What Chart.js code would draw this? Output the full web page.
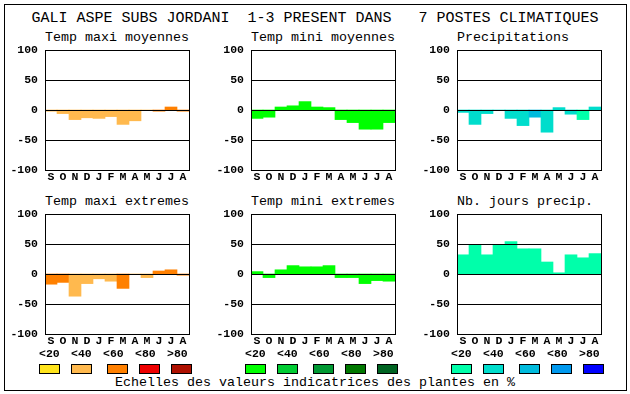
<!DOCTYPE html>
<html><head><meta charset="utf-8">
<script src="https://cdn.jsdelivr.net/npm/chart.js@4"></script>
<style>
html,body{margin:0;padding:0;background:#fff;}
#wrap{position:relative;width:630px;height:394px;overflow:hidden;background:#fff;}
.frame{position:absolute;left:4px;top:4px;width:623px;height:387px;border:1px solid #000;box-sizing:border-box;}
.t{position:absolute;font-family:'Liberation Mono',monospace;color:#000;white-space:pre;}
.main{font-size:15px;line-height:20px;left:0;width:630px;text-align:center;top:9px;}
.sub{font-size:13.33px;line-height:16px;}
.lab{font-size:11.5px;font-weight:bold;line-height:14px;}
.foot{font-size:13.33px;line-height:16px;left:0;width:630px;text-align:center;top:375px;}
.box{position:absolute;width:21px;height:10px;border:1px solid #000;box-sizing:border-box;}
canvas{position:absolute;}
</style></head>
<body>
<div id="wrap">
  <div class="frame"></div>
  <div class="t main">GALI ASPE SUBS JORDANI  1-3 PRESENT DANS   7 POSTES CLIMATIQUES</div>
  <div class="t foot">Echelles des valeurs indicatrices des plantes en %</div>
</div>
<script>
// ---------- data ----------
const months = ['S','O','N','D','J','F','M','A','M','J','J','A'];
const yTicks = [-100, -50, 0, 50, 100];
const gridValues = [-50, 0, 50];

const tmaxMoy    = [-2, -6, -16, -13, -14, -11, -24, -18, 0, -2, 5, -2];
const tmaxMoyCls = [1, 1, 1, 1, 1, 1, 1, 1, 1, 2, 2, 2];
const tminMoy    = [-14, -12, 5, 7, 14, 5, 4, -16, -21, -32, -32, -21];
const tminMoyCls = [0, 0, 0, 0, 0, 0, 0, 0, 0, 0, 0, 0];
const precip     = [-4, -24, -6, 0, -14, -26, -12, -37, 4, -7, -16, 5];
const precipCls  = [1, 1, 1, 1, 1, 1, 2, 1, 1, 1, 0, 1];
const tmaxExt    = [-17, -14, -37, -16, -8, -12, -24, 0, -6, 5, 7, -2];
const tmaxExtCls = [2, 2, 1, 1, 1, 1, 2, 1, 1, 2, 2, 2];
const tminExt    = [4, -6, 7, 14, 12, 12, 14, -6, -6, -16, -11, -12];
const tminExtCls = [0, 0, 0, 0, 0, 0, 0, 0, 0, 0, 0, 0];
const nbJours    = [32, 49, 32, 49, 54, 42, 42, 20, 2, 32, 27, 34];
const nbJoursCls = [0, 0, 0, 0, 0, 0, 0, 0, 0, 0, 0, 0];

const legendLabels = ['<20', '<40', '<60', '<80', '>80'];
const warmColors  = ['#FFE41C', '#FFB94E', '#FF8000', '#EE0000', '#AE1000'];
const greenColors = ['#00FF00', '#00CC33', '#009933', '#007800', '#006422'];
const coolColors  = ['#00FFAA', '#00DDCC', '#00BBDD', '#0099EE', '#0000FF'];

// ---------- layout ----------
const panels = [
  {title:'Temp maxi moyennes', values:tmaxMoy, cls:tmaxMoyCls, pal:warmColors,  x:45,  y:50},
  {title:'Temp mini moyennes', values:tminMoy, cls:tminMoyCls, pal:greenColors, x:251, y:50},
  {title:'Precipitations',     values:precip,  cls:precipCls,  pal:coolColors,  x:457, y:50},
  {title:'Temp maxi extremes', values:tmaxExt, cls:tmaxExtCls, pal:warmColors,  x:45,  y:214},
  {title:'Temp mini extremes', values:tminExt, cls:tminExtCls, pal:greenColors, x:251, y:214},
  {title:'Nb. jours precip.',  values:nbJours, cls:nbJoursCls, pal:coolColors,  x:457, y:214}
];
const AXW = 45, PT = 8, PR = 6, XH = 18, PW = 144, PH = 120;
const FONT = "'Liberation Mono', monospace";
const wrap = document.getElementById('wrap');

const frameLines = {
  id: 'frameLines',
  afterDatasetsDraw(chart) {
    const {ctx, chartArea: a, scales: {y}} = chart;
    ctx.save();
    ctx.strokeStyle = '#000';
    ctx.lineWidth = 1;
    ctx.beginPath();
    gridValues.forEach(v => {
      const py = Math.round(y.getPixelForValue(v)) + 0.5;
      ctx.moveTo(a.left, py);
      ctx.lineTo(a.right + 1, py);
    });
    ctx.stroke();
    ctx.strokeRect(Math.round(a.left) + 0.5, Math.round(a.top) + 0.5,
                   Math.round(a.right - a.left), Math.round(a.bottom - a.top));
    ctx.restore();
  }
};

panels.forEach(p => {
  const t = document.createElement('div');
  t.className = 't sub';
  t.style.left = p.x + 'px';
  t.style.top = (p.y - 20) + 'px';
  t.textContent = p.title;
  wrap.appendChild(t);

  const c = document.createElement('canvas');
  c.width = AXW + PW + PR;
  c.height = PT + PH + XH;
  c.style.left = (p.x - AXW) + 'px';
  c.style.top = (p.y - PT) + 'px';
  c.style.width = c.width + 'px';
  c.style.height = c.height + 'px';
  wrap.appendChild(c);

  new Chart(c, {
    type: 'bar',
    data: {
      labels: months,
      datasets: [{
        data: p.values,
        backgroundColor: p.cls.map(k => p.pal[k]),
        borderWidth: 0,
        barPercentage: 1,
        categoryPercentage: 1
      }]
    },
    options: {
      responsive: false,
      animation: false,
      devicePixelRatio: 1,
      layout: {padding: {top: PT, right: PR, left: 0, bottom: 0}},
      plugins: {legend: {display: false}, tooltip: {enabled: false}},
      scales: {
        x: {
          grid: {display: false, drawTicks: false},
          border: {display: false},
          ticks: {color: '#000', padding: 0, autoSkip: false, maxRotation: 0,
                  font: {family: FONT, size: 11.5, weight: 'bold', lineHeight: 1.2}},
          afterFit: s => { s.height = XH; s.paddingLeft = 0; s.paddingRight = 0; }
        },
        y: {
          min: yTicks[0], max: yTicks[yTicks.length - 1],
          afterBuildTicks: s => { s.ticks = yTicks.map(v => ({value: v})); },
          grid: {display: false, drawTicks: false},
          border: {display: false},
          ticks: {color: '#000', padding: 7, callback: v => String(v),
                  font: {family: FONT, size: 11.5, weight: 'bold', lineHeight: 1.2}},
          afterFit: s => { s.width = AXW; s.paddingTop = 0; s.paddingBottom = 0; }
        }
      }
    },
    plugins: [frameLines]
  });
});

// ---------- colour scale legend ----------
const groupStarts = [39, 245, 451];
const labelOffsets = [0, 32, 64, 96, 128];
const boxOffsets = [0, 32, 68, 100, 132];
[warmColors, greenColors, coolColors].forEach((pal, g) => {
  legendLabels.forEach((lab, i) => {
    const l = document.createElement('div');
    l.className = 't lab';
    l.style.left = (groupStarts[g] + labelOffsets[i]) + 'px';
    l.style.top = '347px';
    l.textContent = lab;
    wrap.appendChild(l);
    const b = document.createElement('div');
    b.className = 'box';
    b.style.left = (groupStarts[g] + boxOffsets[i]) + 'px';
    b.style.top = '364px';
    b.style.background = pal[i];
    wrap.appendChild(b);
  });
});
</script>
</body></html>
